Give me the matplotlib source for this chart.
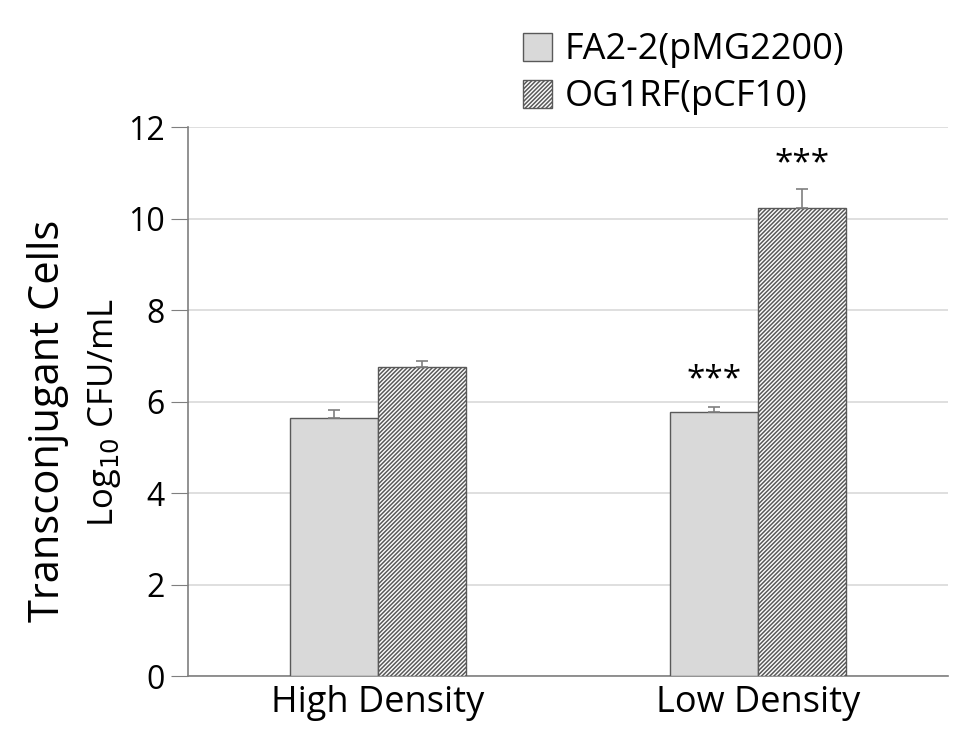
import numpy as np
import matplotlib.pyplot as plt

# values
categories = ["High Density", "Low Density"]
series = ["FA2-2(pMG2200)", "OG1RF(pCF10)"]
fa2_vals = [5.64, 5.77]
fa2_err = [0.17, 0.11]
og1_vals = [6.75, 10.23]
og1_err = [0.14, 0.41]
fa2_marks = ["", "***"]
og1_marks = ["", "***"]

plt.rcParams['font.family'] = ['Open Sans', 'DejaVu Sans']
plt.rcParams['hatch.color'] = '#444444'
plt.rcParams['hatch.linewidth'] = 1.1

fig = plt.figure(figsize=(9.75, 7.53), dpi=100)
ax = fig.add_axes([0.193, 0.102, 0.779, 0.729])

x = np.arange(len(categories))
w = 0.232
edge = '#595959'

ax.bar(x - w/2, fa2_vals, w, color='#d9d9d9', edgecolor=edge, linewidth=1,
       label=series[0], zorder=3)
ax.bar(x + w/2, og1_vals, w, color='white', edgecolor=edge, linewidth=1,
       hatch='////////', label=series[1], zorder=3)

ax.errorbar(x - w/2, fa2_vals, yerr=[np.zeros(2), fa2_err], fmt='none',
            ecolor='#7f7f7f', elinewidth=1.2, capsize=4, capthick=1.2, zorder=4)
ax.errorbar(x + w/2, og1_vals, yerr=[np.zeros(2), og1_err], fmt='none',
            ecolor='#7f7f7f', elinewidth=1.2, capsize=4, capthick=1.2, zorder=4)

for i in range(len(categories)):
    if fa2_marks[i]:
        ax.text(x[i] - w/2, fa2_vals[i] + fa2_err[i] + 0.6, fa2_marks[i],
                ha='center', va='center', fontsize=24)
    if og1_marks[i]:
        ax.text(x[i] + w/2, og1_vals[i] + og1_err[i] + 0.55, og1_marks[i],
                ha='center', va='center', fontsize=24)

ax.set_xlim(-0.5, 1.5)
ax.set_ylim(0, 12)
ax.set_yticks(range(0, 13, 2))
ax.set_xticks(x)
ax.set_xticklabels(categories, fontsize=26)
ax.tick_params(axis='x', length=0, pad=6)
ax.tick_params(axis='y', labelsize=23, length=12, color='#7f7f7f', pad=5)

ax.yaxis.grid(True, color='#d9d9d9', linewidth=1.2, zorder=0)
ax.set_axisbelow(True)
for s in ['top', 'right']:
    ax.spines[s].set_visible(False)
for s in ['left', 'bottom']:
    ax.spines[s].set_color('#7f7f7f')
    ax.spines[s].set_linewidth(1.2)

fig.text(0.049, 0.441, "Transconjugant Cells", rotation=90, fontsize=30,
         ha='center', va='center')
fig.text(0.107, 0.452, "Log$_{10}$ CFU/mL", rotation=90, fontsize=25,
         ha='center', va='center')

fig.legend(loc='upper left', bbox_to_anchor=(0.503, 1.0), frameon=False,
           fontsize=26, handlelength=0.8, handleheight=0.8, handletextpad=0.35,
           labelspacing=0.3)

fig.savefig("out.png", dpi=100)
